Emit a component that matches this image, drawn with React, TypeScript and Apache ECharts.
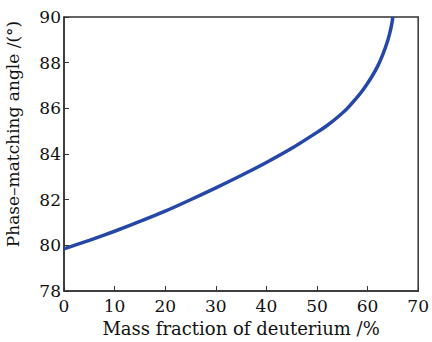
import React, { useEffect, useRef } from "react";
import * as echarts from "echarts";

const massFraction = [0, 5, 10, 15, 20, 25, 30, 35, 40, 45, 50, 52, 54, 56, 58, 59, 60, 61, 62, 63, 64, 64.5, 64.8, 65];
const angle = [79.85, 80.22, 80.62, 81.05, 81.5, 82.0, 82.52, 83.06, 83.63, 84.25, 84.95, 85.25, 85.6, 86.0, 86.5, 86.78, 87.1, 87.45, 87.85, 88.35, 88.98, 89.4, 89.72, 90];
const xTicks = [0, 10, 20, 30, 40, 50, 60, 70];
const yTicks = [78, 80, 82, 84, 86, 88, 90];

const FONT = "DejaVu Serif";

export default function App() {
  const ref = useRef<HTMLDivElement>(null);
  useEffect(() => {
    if (!ref.current) return;
    const chart = echarts.init(ref.current, undefined, { renderer: "svg" });
    chart.setOption({
      animation: false,
      backgroundColor: "#ffffff",
      textStyle: { fontFamily: FONT },
      grid: {
        left: 64,
        right: 12,
        top: 17,
        bottom: 44,
        show: true,
        borderColor: "#333",
        borderWidth: 1.5,
      },
      xAxis: {
        type: "value",
        min: xTicks[0],
        max: xTicks[xTicks.length - 1],
        interval: 10,
        name: "Mass fraction of deuterium /%",
        nameLocation: "middle",
        nameGap: 27,
        nameTextStyle: { fontFamily: FONT, fontSize: 18, color: "#111" },
        axisLine: { show: true, lineStyle: { color: "#333", width: 1.5 } },
        axisTick: { show: true, inside: true, length: 5, lineStyle: { color: "#333" } },
        axisLabel: { fontFamily: FONT, fontSize: 17, color: "#111", margin: 6 },
        splitLine: { show: false },
      },
      yAxis: {
        type: "value",
        min: yTicks[0],
        max: yTicks[yTicks.length - 1],
        interval: 2,
        axisLine: { show: true, lineStyle: { color: "#333", width: 1.5 } },
        axisTick: { show: true, inside: true, length: 5, lineStyle: { color: "#333" } },
        axisLabel: { fontFamily: FONT, fontSize: 17, color: "#111", margin: 3 },
        splitLine: { show: false },
      },
      graphic: [
        {
          type: "text",
          x: 13,
          y: 134,
          rotation: Math.PI / 2,
          style: {
            text: "Phase–matching angle /(°)",
            fontFamily: FONT,
            fontSize: 17,
            fill: "#111",
            align: "center",
            verticalAlign: "middle",
          },
        },
      ],
      series: [
        {
          type: "line",
          data: massFraction.map((x, i) => [x, angle[i]]),
          smooth: 0.2,
          showSymbol: false,
          lineStyle: { color: "#2447a8", width: 3.5 },
        },
      ],
    });
    return () => chart.dispose();
  }, []);
  return <div ref={ref} style={{ width: 432, height: 342, position: "absolute", left: 0, top: 0 }} />;
}
